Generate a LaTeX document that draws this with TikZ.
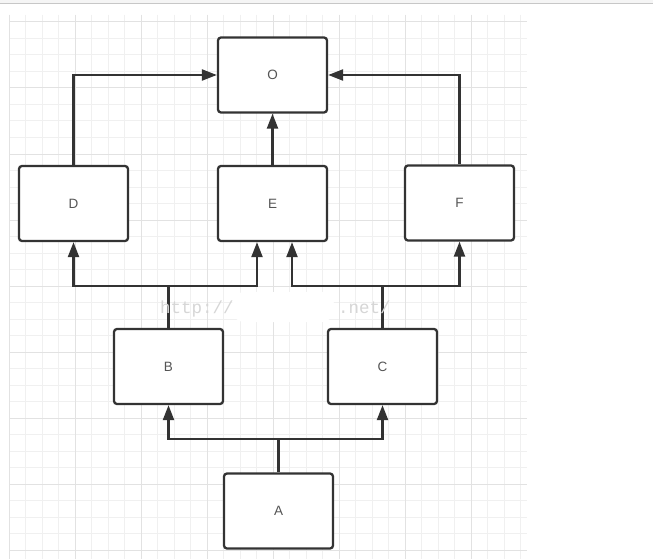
\documentclass[tikz,border=0pt]{standalone}
\usepackage{fontspec}
\setmainfont{Liberation Sans}
\newfontfamily\wmfont{Liberation Mono}
\usetikzlibrary{arrows.meta}
\definecolor{boxline}{HTML}{333333}
\definecolor{labelc}{HTML}{555555}
\definecolor{gridminor}{HTML}{F0F0F0}
\definecolor{gridmajor}{HTML}{E2E2E2}
\definecolor{wmgray}{HTML}{D6D6D6}
\tikzset{
  box/.style={draw=boxline, line width=2.3pt, rounded corners=3pt, fill=white,
    minimum width=109pt, minimum height=75pt, inner sep=0pt,
    font=\fontsize{13.5}{15}\selectfont, text=labelc},
  conn/.style={draw=boxline, line width=2.2pt},
  arr/.style={conn, -{Triangle[length=15pt,width=11pt]}},
}
\begin{document}
\begin{tikzpicture}[x=1pt,y=-1pt]
\useasboundingbox (0,0) rectangle (653,559);
\fill[white] (0,0) rectangle (653,559);
% top bar
\fill[black!4] (0,0) rectangle (653,3);
\draw[black!22, line width=1pt] (0,3.5) -- (653,3.5);
% grid
\foreach \i in {0,...,31} {
  \pgfmathsetmacro{\gx}{9+16.5*\i}
  \draw[gridminor, line width=1pt] (\gx,15) -- (\gx,559);
}
\foreach \j in {0,...,32} {
  \pgfmathsetmacro{\gy}{22+16.5*\j}
  \draw[gridminor, line width=1pt] (9,\gy) -- (527,\gy);
}
\foreach \i in {0,...,7} {
  \pgfmathsetmacro{\gx}{9+66*\i}
  \draw[gridmajor, line width=1pt] (\gx,15) -- (\gx,559);
}
\foreach \j in {0,...,8} {
  \pgfmathsetmacro{\gy}{22+66*\j}
  \draw[gridmajor, line width=1pt] (9,\gy) -- (527,\gy);
}
% watermark blob
\fill[white, rounded corners=12pt] (232,292) rectangle (334,322);
% nodes
\node[box] (O) at (272.5,75) {O};
\node[box] (D) at (73.5,203.5) {D};
\node[box] (E) at (272.5,203.5) {E};
\node[box] (F) at (459.5,203) {F};
\node[box] (B) at (168.5,366.5) {B};
\node[box] (C) at (382.5,366.5) {C};
\node[box] (A) at (278.5,511) {A};
% connectors to O
\draw[arr] (D.north) |- (O.west);
\draw[arr] (E.north) -- (O.south);
\draw[arr] (F.north) |- (O.east);
% B
\coordinate (bj) at (168.5,286);
\draw[conn] (B.north) -- (bj);
\draw[arr] (bj) -| (D.south);
\draw[arr] (bj) -| ([xshift=-15.5pt]E.south);
% C
\coordinate (cj) at (382.5,286);
\draw[conn] (C.north) -- (cj);
\draw[arr] (cj) -| ([xshift=19.5pt]E.south);
\draw[arr] (cj) -| (F.south);
% A
\coordinate (aj) at (278.5,439);
\draw[conn] (A.north) -- (aj);
\draw[arr] (aj) -| (B.south);
\draw[arr] (aj) -| (C.south);
% watermark text
\node[anchor=base west, inner sep=0pt, text=wmgray, font=\wmfont\fontsize{17.5}{18}\selectfont] (wm1) at (160,313) {http://};
\node[anchor=base west, inner sep=0pt, text=wmgray, font=\wmfont\fontsize{17.5}{18}\selectfont] (wm2) at (338,313) {.net/};
\end{tikzpicture}
\end{document}
